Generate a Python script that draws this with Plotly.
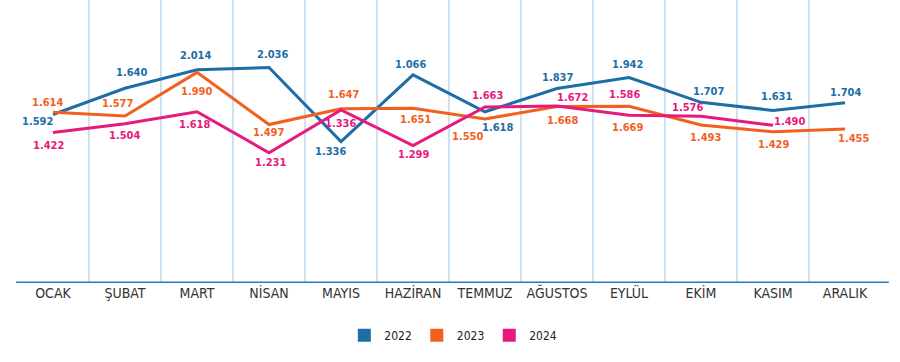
import plotly.graph_objects as go

months = ["OCAK", "ŞUBAT", "MART", "NİSAN", "MAYIS", "HAZİRAN", "TEMMUZ",
          "AĞUSTOS", "EYLÜL", "EKİM", "KASIM", "ARALIK"]

v2022 = [1.592, 1.840, 2.014, 2.036, 1.336, 1.966, 1.618, 1.837, 1.942, 1.707, 1.631, 1.704]
v2023 = [1.614, 1.577, 1.990, 1.497, 1.647, 1.651, 1.550, 1.668, 1.669, 1.493, 1.429, 1.455]
v2024 = [1.422, 1.504, 1.618, 1.231, 1.636, 1.299, 1.663, 1.672, 1.586, 1.576, 1.490, None]

lab2022 = ["1.592", "1.640", "2.014", "2.036", "1.336", "1.066", "1.618", "1.837", "1.942", "1.707", "1.631", "1.704"]
lab2023 = ["1.614", "1.577", "1.990", "1.497", "1.647", "1.651", "1.550", "1.668", "1.669", "1.493", "1.429", "1.455"]
lab2024 = ["1.422", "1.504", "1.618", "1.231", "1.336", "1.299", "1.663", "1.672", "1.586", "1.576", "1.490", ""]

years = ["2022", "2023", "2024"]

# label offsets in pixels (dx, dy downwards positive)
off2022 = [(-16, 7), (6, -16), (-2, -14), (3, -13), (-11, 10), (-3, -10), (12, 16),
           (0, -11), (-2, -13), (7, -11), (3, -14), (0, -10)]
off2023 = [(-6, -10), (-8, -13), (-1, 19), (-1, 8), (2, -14), (2, 11), (-18, 18),
           (5, 14), (-2, 21), (4, 13), (0, 13), (8, 9)]
off2024 = [(-5, 13), (-1, 12), (-3, 13), (1, 10), (-1, 14), (0, 9), (2, -12),
           (15, -9), (-5, -21), (-14, -9), (16, -4), (0, 0)]

colors = ["#1d6ea7", "#f2601f", "#e8197c"]
FONT = "DejaVu Sans Condensed, Open Sans, sans-serif"

x = list(range(len(months)))
fig = go.Figure()
for vals, col in zip([v2022, v2023, v2024], colors):
    fig.add_trace(go.Scatter(x=x, y=vals, mode="lines", line=dict(color=col, width=3),
                             showlegend=False, hoverinfo="skip", connectgaps=False))
for yr, col in zip(years, colors):
    fig.add_trace(go.Scatter(x=[None], y=[None], mode="markers", name=yr,
                             marker=dict(symbol="square", size=13, color=col)))

annotations = []
for vals, labs, offs, col in zip([v2022, v2023, v2024], [lab2022, lab2023, lab2024],
                                 [off2022, off2023, off2024], colors):
    for i, (v, t, o) in enumerate(zip(vals, labs, offs)):
        if v is None or not t:
            continue
        annotations.append(dict(x=i, y=v, xref="x", yref="y", text="<b>" + t + "</b>",
                                showarrow=False, xshift=o[0], yshift=-o[1],
                                font=dict(family=FONT, size=11, color=col)))

fig.update_layout(
    width=900, height=362,
    margin=dict(l=17, r=19, t=0, b=79),
    paper_bgcolor="white", plot_bgcolor="white",
    annotations=annotations,
    showlegend=True,
    legend=dict(orientation="h", x=0.505, xanchor="center", y=-0.185, yanchor="middle",
                font=dict(family=FONT, size=12, color="#222"), itemclick=False),
    xaxis=dict(range=[-0.5, 11.5], tickmode="array", tickvals=x, ticktext=months,
               showgrid=False, zeroline=False, showline=False, ticks="",
               tickfont=dict(family=FONT, size=14, color="#333"),
               minor=dict(tickmode="array", tickvals=[i + 0.5 for i in range(11)],
                          showgrid=True, gridcolor="#cce2f1", gridwidth=1.5),
               automargin=False, fixedrange=True),
    yaxis=dict(range=[0, 2.674], visible=False, showgrid=False, zeroline=False,
               fixedrange=True),
    shapes=[dict(type="line", xref="paper", yref="y", x0=-0.001, x1=1.009, y0=0, y1=0,
                 line=dict(color="#2a7ab2", width=3))],
)

fig.write_html("out.html", config={"displayModeBar": False},
               post_script="document.body.style.margin='0';")
